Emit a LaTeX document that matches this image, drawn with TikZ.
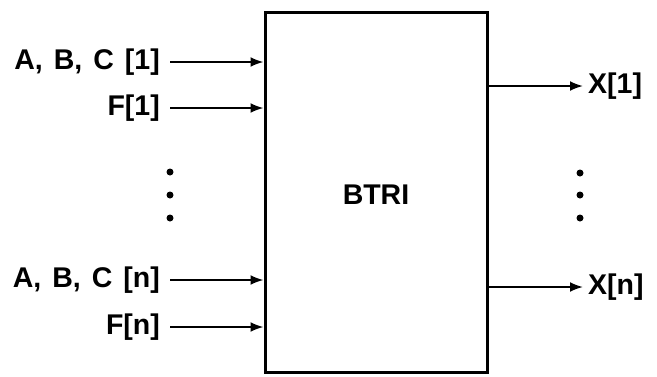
\documentclass[tikz,border=0pt]{standalone}
\usepackage{fontspec}
\setmainfont{Liberation Sans}
\usetikzlibrary{arrows.meta}
\begin{document}
\begin{tikzpicture}[x=1pt,y=-1pt,
  lbl/.style={font=\bfseries\fontsize{28.5}{32}\selectfont, inner sep=0pt},
  inarrow/.style={line width=2pt, -{Latex[length=13pt,width=10pt]}},
  dot/.style={circle, fill=black, inner sep=0pt, minimum size=7pt},
  blk/.style={draw, line width=3pt, minimum width=222pt, minimum height=360pt, inner sep=0pt}]
\useasboundingbox (0,0) rectangle (657,376);
\node[blk] (box) at (376,192) {};
\node[lbl] (bt) at (376,195) {BTRI};
% left inputs
\node[lbl, anchor=east] (abc1) at (160,62) {A,\hspace{11pt}B,\hspace{11pt}C\hspace{11pt}[1]};
\node[lbl, anchor=east] (f1) at (160,108) {F[1]};
\node[lbl, anchor=east] (abcn) at (160,280) {A,\hspace{11pt}B,\hspace{11pt}C\hspace{11pt}[n]};
\node[lbl, anchor=east] (fn) at (160,327) {F[n]};
\coordinate (s1) at (170,62);
\coordinate (s2) at (170,108);
\coordinate (s3) at (170,280);
\coordinate (s4) at (170,327);
\draw[inarrow] (s1) -- (s1 -| box.west);
\draw[inarrow] (s2) -- (s2 -| box.west);
\draw[inarrow] (s3) -- (s3 -| box.west);
\draw[inarrow] (s4) -- (s4 -| box.west);
\node[dot] (ld1) at (170,172) {};
\node[dot] (ld2) at (170,195) {};
\node[dot] (ld3) at (170,218) {};
% right outputs
\node[lbl, anchor=west] (x1) at (588,86) {X[1]};
\node[lbl, anchor=west] (xn) at (588,287) {X[n]};
\coordinate (e1) at (583,86);
\coordinate (e2) at (583,287);
\draw[inarrow] (e1 -| box.east) -- (e1);
\draw[inarrow] (e2 -| box.east) -- (e2);
\node[dot] (rd1) at (580,173) {};
\node[dot] (rd2) at (580,195) {};
\node[dot] (rd3) at (580,218) {};
\end{tikzpicture}
\end{document}
